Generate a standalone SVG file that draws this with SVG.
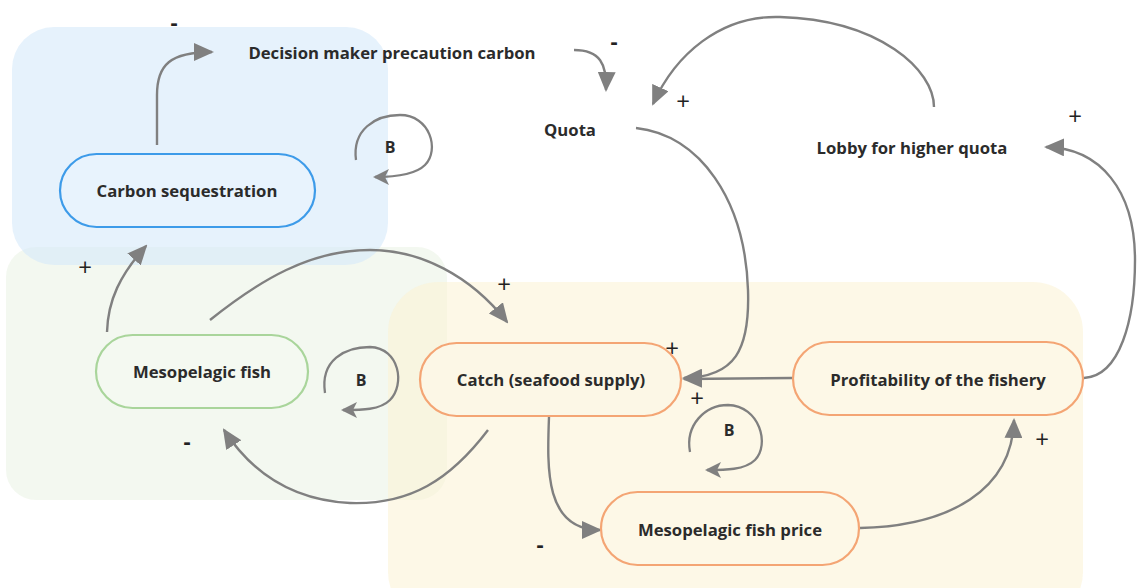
<svg xmlns="http://www.w3.org/2000/svg" width="1137" height="588" viewBox="0 0 1137 588">
<style>
.lbl{font-family:"Open Sans","Liberation Sans",sans-serif;font-weight:700;font-size:16.7px;fill:#2b2b2b;text-anchor:middle;dominant-baseline:central}
.sign{font-family:"Open Sans","Liberation Sans",sans-serif;font-size:24px;fill:#222;text-anchor:middle;dominant-baseline:central}
.minus{font-family:"Open Sans","Liberation Sans",sans-serif;font-weight:700;font-size:22px;fill:#222;text-anchor:middle;dominant-baseline:central}
.b{font-family:"Open Sans","Liberation Sans",sans-serif;font-weight:700;font-size:16px;fill:#2b2b2b;text-anchor:middle;dominant-baseline:central}
.node{stroke-width:2.2}
.c{fill:none;stroke:#808080;stroke-width:2.4;marker-end:url(#ah)}
.lp{fill:none;stroke:#808080;stroke-width:2.3;marker-end:url(#ahs)}
</style>
<defs>
<marker id="ah" viewBox="0 0 20 18" refX="18" refY="9" markerWidth="20" markerHeight="18" markerUnits="userSpaceOnUse" orient="auto">
<path d="M0,0 L20,9 L0,18 z" fill="#808080"/>
</marker>
<marker id="ahs" viewBox="0 0 16 16" refX="14" refY="8" markerWidth="16" markerHeight="16" markerUnits="userSpaceOnUse" orient="auto">
<path d="M0,0 L16,8 L0,16 L4,8 z" fill="#808080"/>
</marker>
</defs>
<rect width="1137" height="588" fill="#ffffff"/>
<g id="regions">
<rect x="6" y="247" width="441" height="253" rx="30" fill="#eef5e9" fill-opacity="0.7"/>
<rect x="12" y="27" width="376" height="238" rx="42" fill="#d6e9fa" fill-opacity="0.6"/>
<rect x="388" y="282" width="695" height="340" rx="50" fill="#fcf2d4" fill-opacity="0.55"/>
</g>
<g id="connectors">
<path class="c" d="M157,145 L157,95 C157,65 170,52 212,52"/>
<path class="c" d="M574,50 C600,50 607,64 606,90"/>
<path class="c" d="M934,107 C934,70 880,20 780,17 C720,15 675,55 653,104"/>
<path class="c" d="M636,128 C700,135 745,200 748,290 C750,350 735,377 684,378"/>
<path class="c" d="M792,378 L684,379"/>
<path class="c" d="M1084,378 C1120,376 1135,320 1135,260 C1135,190 1100,148 1046,147"/>
<path class="c" d="M860,528 C950,526 1012,490 1014,420"/>
<path class="c" d="M549,417 C547,470 545,530 600,530"/>
<path class="c" d="M488,430 C450,480 410,505 350,503 C290,500 250,470 224,430"/>
<path class="c" d="M210,320 C260,280 310,250 370,250 C420,250 470,275 507,322"/>
<path class="c" d="M107,332 C108,300 120,275 146,246"/>
<path class="lp" d="M356,160 C352,130 375,115 400,115 C430,115 440,150 425,165 C415,175 395,177 375,177"/>
<path class="lp" d="M325,393 C320,360 345,347 370,347 C400,348 405,385 390,400 C380,410 362,410 343,410"/>
<path class="lp" d="M690,452 C685,425 705,405 728,405 C760,406 770,445 755,460 C745,470 725,470 707,470"/>
</g>
<g id="signs">
<text class="minus" x="174" y="21">-</text>
<text class="minus" x="614" y="40">-</text>
<text class="sign" x="683" y="100">+</text>
<text class="sign" x="1075" y="115">+</text>
<text class="sign" x="85" y="266">+</text>
<text class="sign" x="504" y="283">+</text>
<text class="sign" x="672" y="347">+</text>
<text class="sign" x="697" y="397">+</text>
<text class="minus" x="187" y="440">-</text>
<text class="sign" x="1042" y="438">+</text>
<text class="minus" x="540" y="543">-</text>
<text class="b" x="390" y="147">B</text>
<text class="b" x="361" y="380">B</text>
<text class="b" x="729" y="430">B</text>
</g>
<g id="n-decision"><text class="lbl" x="392" y="52">Decision maker precaution carbon</text></g>
<g id="n-quota"><text class="lbl" x="570" y="129">Quota</text></g>
<g id="n-lobby"><text class="lbl" x="912" y="147">Lobby for higher quota</text></g>
<g id="n-carbon">
<rect class="node" x="60" y="154" width="255" height="73" rx="36.5" fill="#e8f3fd" stroke="#3d9be9"/>
<text class="lbl" x="187" y="190">Carbon sequestration</text>
</g>
<g id="n-meso">
<rect class="node" x="96" y="335" width="212" height="73" rx="36.5" fill="#f4f9f1" stroke="#a9d59b"/>
<text class="lbl" x="202" y="371">Mesopelagic fish</text>
</g>
<g id="n-catch">
<rect class="node" x="420" y="343" width="261" height="73" rx="36.5" fill="#fcf7e6" stroke="#f4a574"/>
<text class="lbl" x="551" y="379">Catch (seafood supply)</text>
</g>
<g id="n-profit">
<rect class="node" x="793" y="342" width="290" height="73" rx="36.5" fill="#fdf8e7" stroke="#f4a574"/>
<text class="lbl" x="938" y="379">Profitability of the fishery</text>
</g>
<g id="n-price">
<rect class="node" x="601" y="492" width="258" height="73" rx="36.5" fill="#fdf8e7" stroke="#f4a574"/>
<text class="lbl" x="730" y="529">Mesopelagic fish price</text>
</g>
</svg>
